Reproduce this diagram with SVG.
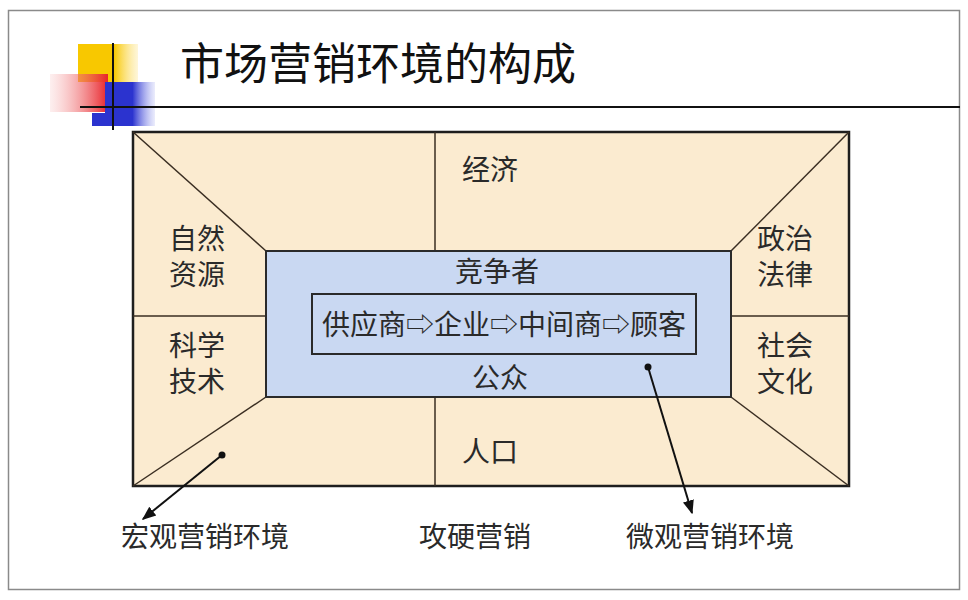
<svg xmlns="http://www.w3.org/2000/svg" width="968" height="600" viewBox="0 0 968 600">
<defs>
<style>
.t{font-family:"Liberation Serif","Noto Sans CJK SC",serif;fill:#2a2a2a;font-size:28px;text-anchor:middle}
.ln{stroke:#3a2e22;stroke-width:1.5;fill:none}
.bd{stroke:#1e1e1e;stroke-width:2.5}
</style>
<linearGradient id="rg" x1="1" y1="0" x2="0" y2="0"><stop offset="0" stop-color="#e8232a"/><stop offset="1" stop-color="#f6b0b0" stop-opacity="0.2"/></linearGradient>
<linearGradient id="yg" x1="0" y1="0" x2="1" y2="0"><stop offset="0.6" stop-color="#f8c800"/><stop offset="1" stop-color="#fde9a0" stop-opacity="0.4"/></linearGradient>
<linearGradient id="bg" x1="0" y1="0" x2="1" y2="0"><stop offset="0.55" stop-color="#2b33cf"/><stop offset="1" stop-color="#9aa0f0" stop-opacity="0.2"/></linearGradient>
<marker id="ah" viewBox="0 0 10 10" refX="9" refY="5" markerWidth="7" markerHeight="7" orient="auto"><path d="M0,1 L10,5 L0,9 Z" fill="#111"/></marker>
</defs>
<rect x="0" y="0" width="968" height="600" fill="#fff"/>
<rect x="8.5" y="10.5" width="951" height="579" fill="#fff" stroke="#8a8a8a" stroke-width="1.5"/>
<g id="logo">
<rect x="78" y="44" width="60" height="38" fill="url(#yg)"/>
<rect x="50" y="74" width="58" height="38" fill="url(#rg)"/>
<rect x="105" y="82" width="50" height="44" fill="url(#bg)"/>
<rect x="92" y="113" width="18" height="13" fill="#2b33cf"/>
<line x1="113" y1="43" x2="113" y2="130" stroke="#111" stroke-width="2"/>
<line x1="80" y1="107" x2="960" y2="107" stroke="#111" stroke-width="2"/>
</g>
<text x="180" y="80" font-family="Liberation Sans,'Noto Sans CJK SC',sans-serif" font-size="44" fill="#111">市场营销环境的构成</text>
<g id="outer">
<rect x="133" y="132" width="716" height="354" fill="#fbebd0" class="bd"/>
</g>
<g id="dividers">
<line class="ln" x1="133" y1="132" x2="266" y2="251"/>
<line class="ln" x1="133" y1="486" x2="266" y2="397"/>
<line class="ln" x1="849" y1="132" x2="731" y2="251"/>
<line class="ln" x1="849" y1="486" x2="731" y2="397"/>
<line class="ln" x1="435" y1="132" x2="435" y2="251"/>
<line class="ln" x1="435" y1="397" x2="435" y2="486"/>
<line class="ln" x1="133" y1="316" x2="266" y2="316"/>
<line class="ln" x1="731" y1="316" x2="849" y2="316"/>
</g>
<g id="inner">
<rect x="266" y="251" width="465" height="146" fill="#c9d8f2" stroke="#2a2a2a" stroke-width="2"/>
</g>
<g id="chain">
<rect x="312" y="294" width="384" height="60" fill="none" stroke="#2a2a2a" stroke-width="2"/>
<text class="t" x="504" y="335">供应商⇨企业⇨中间商⇨顾客</text>
</g>
<g id="labels">
<text class="t" x="490" y="180">经济</text>
<text class="t" x="197" y="249">自然</text>
<text class="t" x="197" y="285">资源</text>
<text class="t" x="785" y="249">政治</text>
<text class="t" x="785" y="285">法律</text>
<text class="t" x="197" y="356">科学</text>
<text class="t" x="197" y="392">技术</text>
<text class="t" x="785" y="356">社会</text>
<text class="t" x="785" y="392">文化</text>
<text class="t" x="490" y="462">人口</text>
<text class="t" x="497" y="282">竞争者</text>
<text class="t" x="500" y="388">公众</text>
<text class="t" x="205" y="547">宏观营销环境</text>
<text class="t" x="475" y="547">攻硬营销</text>
<text class="t" x="710" y="547">微观营销环境</text>
</g>
<g id="connectors">
<circle cx="222" cy="455" r="3.5" fill="#111"/>
<line x1="222" y1="455" x2="143" y2="519" stroke="#111" stroke-width="2" marker-end="url(#ah)"/>
<circle cx="648" cy="367" r="3.5" fill="#111"/>
<line x1="648" y1="367" x2="692" y2="513" stroke="#111" stroke-width="2" marker-end="url(#ah)"/>
</g>
</svg>
